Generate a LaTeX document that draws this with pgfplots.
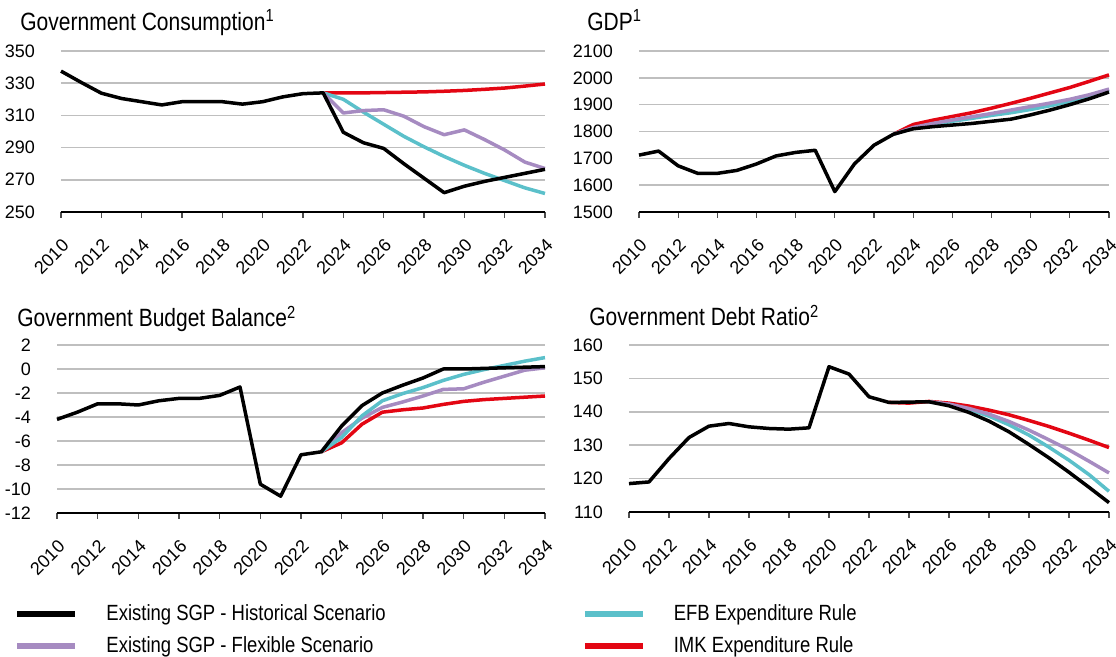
\documentclass[border=0pt]{standalone}
\usepackage{fontspec}
\setmainfont{Liberation Sans}
\newfontfamily\narrowfont{Liberation Sans}[FakeStretch=0.84]
\usepackage{pgfplots}
\usepackage{pgfplotstable}
\pgfplotsset{compat=1.18}

\definecolor{flexc}{RGB}{166,139,193}
\definecolor{efbc}{RGB}{91,192,202}
\definecolor{imkc}{RGB}{227,6,19}
\definecolor{gridc}{RGB}{191,191,191}

% columns: year, Existing SGP historical, Existing SGP flexible, EFB rule, IMK rule
\pgfplotstableread{
year hist flex efb imk
2010 337.5 nan nan nan
2011 330.5 nan nan nan
2012 323.8 nan nan nan
2013 320.5 nan nan nan
2014 318.5 nan nan nan
2015 316.5 nan nan nan
2016 318.5 nan nan nan
2017 318.5 nan nan nan
2018 318.5 nan nan nan
2019 317.0 nan nan nan
2020 318.5 nan nan nan
2021 321.5 nan nan nan
2022 323.5 nan nan nan
2023 324.0 324.0 324.0 324.0
2024 299.5 311.5 320.0 324.0
2025 293.0 313.0 312.0 324.0
2026 289.5 313.5 304.5 324.2
2027 280.0 309.5 297.0 324.4
2028 271.0 303.0 290.5 324.6
2029 262.0 298.0 284.5 325.0
2030 266.0 301.0 279.0 325.5
2031 269.0 295.0 274.0 326.2
2032 271.5 288.5 269.5 327.0
2033 274.0 281.0 265.0 328.2
2034 276.5 277.0 261.5 329.5
}\consdata

\pgfplotstableread{
year hist flex efb imk
2010 1712 nan nan nan
2011 1727 nan nan nan
2012 1672 nan nan nan
2013 1644 nan nan nan
2014 1644 nan nan nan
2015 1655 nan nan nan
2016 1679 nan nan nan
2017 1709 nan nan nan
2018 1722 nan nan nan
2019 1730 nan nan nan
2020 1576 nan nan nan
2021 1679 nan nan nan
2022 1749 nan nan nan
2023 1790 1790 1790 1790
2024 1810 1815 1813 1826
2025 1818 1830 1826 1842
2026 1824 1843 1838 1856
2027 1830 1855 1849 1870
2028 1838 1867 1860 1887
2029 1846 1880 1870 1905
2030 1862 1893 1882 1924
2031 1880 1906 1896 1944
2032 1900 1920 1912 1964
2033 1922 1937 1932 1987
2034 1947 1958 1955 2011
}\gdpdata

\pgfplotstableread{
year hist flex efb imk
2010 -4.2 nan nan nan
2011 -3.6 nan nan nan
2012 -2.9 nan nan nan
2013 -2.9 nan nan nan
2014 -3.0 nan nan nan
2015 -2.65 nan nan nan
2016 -2.45 nan nan nan
2017 -2.45 nan nan nan
2018 -2.2 nan nan nan
2019 -1.5 nan nan nan
2020 -9.6 nan nan nan
2021 -10.6 nan nan nan
2022 -7.15 nan nan nan
2023 -6.9 -6.9 -6.9 -6.9
2024 -4.75 -5.3 -5.7 -6.15
2025 -3.05 -4.1 -3.9 -4.6
2026 -2.0 -3.2 -2.65 -3.6
2027 -1.35 -2.75 -2.05 -3.4
2028 -0.75 -2.25 -1.55 -3.25
2029 0.0 -1.7 -0.95 -2.95
2030 0.0 -1.65 -0.45 -2.7
2031 0.05 -1.1 -0.05 -2.55
2032 0.1 -0.6 0.3 -2.45
2033 0.15 -0.1 0.65 -2.35
2034 0.2 0.1 0.95 -2.25
}\balancedata

\pgfplotstableread{
year hist flex efb imk
2010 118.5 nan nan nan
2011 119.0 nan nan nan
2012 126.0 nan nan nan
2013 132.3 nan nan nan
2014 135.7 nan nan nan
2015 136.5 nan nan nan
2016 135.5 nan nan nan
2017 135.0 nan nan nan
2018 134.8 nan nan nan
2019 135.2 nan nan nan
2020 153.5 nan nan nan
2021 151.3 nan nan nan
2022 144.5 nan nan nan
2023 142.8 nan nan 142.8
2024 142.9 nan nan 142.6
2025 143.0 143.0 143.0 143.1
2026 141.8 142.3 142.2 142.6
2027 139.8 141.0 140.7 141.7
2028 137.2 139.3 138.7 140.5
2029 134.0 137.1 136.1 139.1
2030 130.2 134.5 133.0 137.4
2031 126.2 131.6 129.4 135.6
2032 121.9 128.6 125.5 133.6
2033 117.4 125.2 121.2 131.5
2034 112.8 121.7 116.2 129.3
}\debtdata

\pgfplotsset{
  panel/.style={
    scale only axis, anchor=south west, clip=false,
    xmin=2010, xmax=2034, xtick={2010,2012,...,2034},
    axis x line*=bottom, axis y line*=left,
    y axis line style={draw=none},
    x axis line style={black, line width=0.6pt},
    ytick style={draw=none},
    xtick style={black!70, line width=0.6pt},
    tick align=outside, major tick length=3pt,
    ymajorgrids, grid style={gridc, line width=0.75pt},
    tick label style={font=\fontsize{9}{10}\selectfont},
    x tick label style={rotate=45, anchor=north east},
    xticklabel shift=5pt,
    yticklabel style={xshift=-6.5pt},
    /pgf/number format/1000 sep={},
    /pgf/number format/assume math mode=true,
  },
  ser/.style={line width=1.75pt, line join=round},
}

\newcommand\drawall[1]{%
  \addplot[ser, imkc] table[x=year,y=imk]{#1};
  \addplot[ser, efbc] table[x=year,y=efb]{#1};
  \addplot[ser, flexc] table[x=year,y=flex]{#1};
  \addplot[ser, black] table[x=year,y=hist]{#1};
}

\begin{document}
\begin{tikzpicture}
\useasboundingbox (0,0) rectangle (558pt,-328.5pt);

\begin{axis}[panel, at={(30.5pt,-106pt)}, width=242pt, height=80.5pt,
  ymin=250, ymax=350, ytick={250,270,...,350}]
\drawall{\consdata}
\end{axis}

\begin{axis}[panel, at={(319.5pt,-106pt)}, width=235pt, height=80.5pt,
  ymin=1500, ymax=2100, ytick={1500,1600,...,2100}]
\drawall{\gdpdata}
\end{axis}

\begin{axis}[panel, at={(28.5pt,-256.5pt)}, width=244pt, height=84pt,
  ymin=-12, ymax=2, ytick={-12,-10,...,2},
  legend columns=2, legend cell align=left,
  legend image code/.code={\draw[#1, line width=3pt] (0pt,0pt) -- (29pt,0pt);},
  legend style={draw=none, fill=none, at={(-0.088,-0.518)}, anchor=north west,
    font=\narrowfont\fontsize{11}{13}\selectfont, inner sep=0pt, row sep=2.5pt,
    /tikz/every even column/.append style={column sep=96pt},
    /tikz/every odd column/.append style={column sep=12pt}}]
\addlegendimage{black}\addlegendentry{Existing SGP - Historical Scenario}
\addlegendimage{efbc}\addlegendentry{EFB Expenditure Rule}
\addlegendimage{flexc}\addlegendentry{Existing SGP - Flexible Scenario}
\addlegendimage{imkc}\addlegendentry{IMK Expenditure Rule}
\addplot[ser, imkc, forget plot] table[x=year,y=imk]{\balancedata};
\addplot[ser, flexc, forget plot] table[x=year,y=flex]{\balancedata};
\addplot[ser, efbc, forget plot] table[x=year,y=efb]{\balancedata};
\addplot[ser, black, forget plot] table[x=year,y=hist]{\balancedata};
\end{axis}

\begin{axis}[panel, at={(314.5pt,-256pt)}, width=240pt, height=83.5pt,
  ymin=110, ymax=160, ytick={110,120,...,160}]
\drawall{\debtdata}
\end{axis}

\begin{scope}[every node/.style={anchor=base west, inner sep=0pt,
    font=\narrowfont\fontsize{12.5}{14}\selectfont}]
\node at (10pt,-15.25pt) {Government Consumption\textsuperscript{1}};
\node at (293.5pt,-15.25pt) {GDP\textsuperscript{1}};
\node at (8.5pt,-163.5pt) {Government Budget Balance\textsuperscript{2}};
\node at (294.5pt,-163pt) {Government Debt Ratio\textsuperscript{2}};
\end{scope}
\end{tikzpicture}
\end{document}
